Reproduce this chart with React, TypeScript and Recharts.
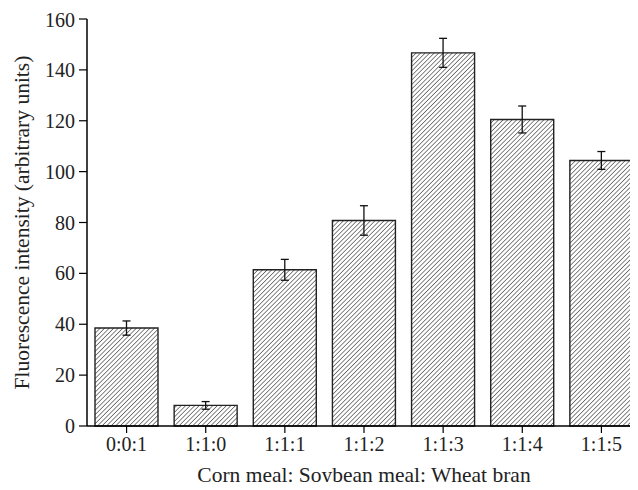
import React from 'react';
import { BarChart, Bar, XAxis, YAxis, ErrorBar } from 'recharts';

const categories = ['0:0:1', '1:1:0', '1:1:1', '1:1:2', '1:1:3', '1:1:4', '1:1:5'];
const intensity = [38.5, 8.1, 61.4, 80.8, 146.7, 120.5, 104.4];
const errors = [2.8, 1.5, 4.1, 5.8, 5.7, 5.3, 3.5];
const yTicks = [0, 20, 40, 60, 80, 100, 120, 140, 160];

const data = categories.map((c, i) => ({ name: c, value: intensity[i], err: errors[i] }));

const font = '"Liberation Serif", "Times New Roman", serif';

export default function App() {
  return (
    <div style={{ width: 630, height: 474, overflow: 'visible' }}>
      <BarChart
        width={630}
        height={481}
        data={data}
        margin={{ top: 11, right: -3, bottom: 7, left: 0 }}
        barSize={63}
        style={{ fontFamily: font }}
      >
        <defs>
          <pattern id="hatch" patternUnits="userSpaceOnUse" width="3.2" height="3.2" patternTransform="rotate(45)">
            <rect width="3.2" height="3.2" fill="#fff" />
            <line x1="0" y1="0" x2="0" y2="3.2" stroke="#222" strokeWidth="1.1" />
          </pattern>
        </defs>
        <XAxis
          dataKey="name"
          height={56}
          tickSize={7}
          tickMargin={4}
          axisLine={{ stroke: '#000', strokeWidth: 1.5 }}
          tickLine={{ stroke: '#000', strokeWidth: 1.2 }}
          tick={{ fill: '#222', fontSize: 20, fontFamily: font }}
          label={{ value: 'Corn meal: Soybean meal: Wheat bran', position: 'insideBottom', offset: 0, dy: 0, fill: '#222', fontSize: 21.5, fontFamily: font }}
        />
        <YAxis
          domain={[0, 160]}
          ticks={yTicks}
          width={79}
          tickSize={8}
          tickMargin={4}
          axisLine={{ stroke: '#000', strokeWidth: 1.5 }}
          tickLine={{ stroke: '#000', strokeWidth: 1.2 }}
          tick={{ fill: '#222', fontSize: 20, fontFamily: font }}
          label={{ value: 'Fluorescence intensity (arbitrary units)', angle: -90, position: 'insideLeft', offset: 13, fill: '#222', fontSize: 21.5, fontFamily: font, style: { textAnchor: 'middle' } }}
        />
        <Bar dataKey="value" fill="url(#hatch)" stroke="#222" strokeWidth={1.4} isAnimationActive={false}>
          <ErrorBar dataKey="err" width={4} stroke="#111" strokeWidth={1.3} />
        </Bar>
      </BarChart>
    </div>
  );
}
